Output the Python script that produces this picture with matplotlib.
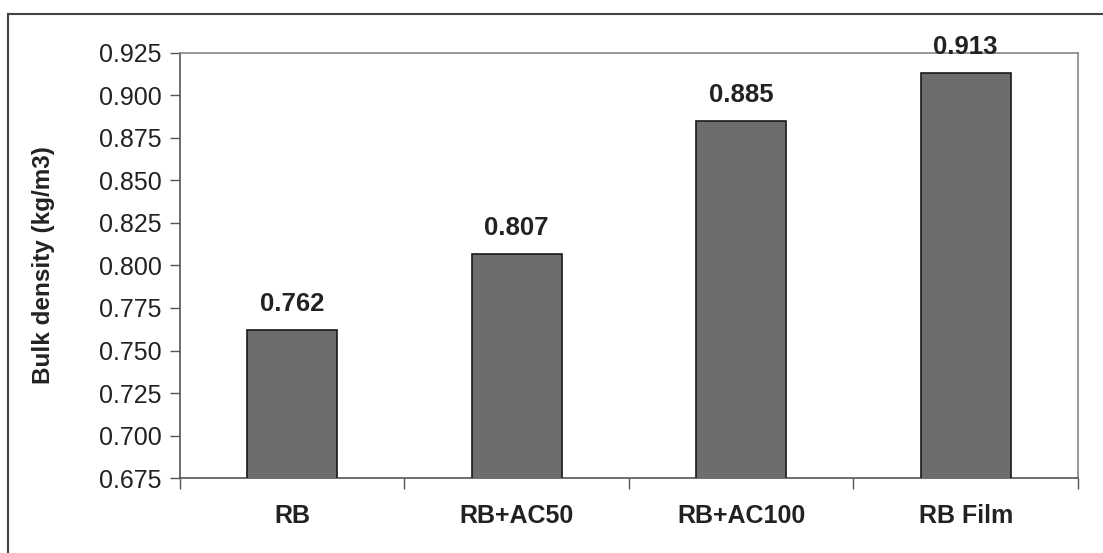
#!/usr/bin/env python3
"""Bulk density bar chart (RB / RB+AC50 / RB+AC100 / RB Film)."""

import matplotlib

matplotlib.use("Agg")
import matplotlib.pyplot as plt
from matplotlib.lines import Line2D
from matplotlib.ticker import FixedLocator, NullFormatter

CATEGORIES = ["RB", "RB+AC50", "RB+AC100", "RB Film"]
DENSITY = [0.762, 0.807, 0.885, 0.913]
Y_TICKS = [0.675, 0.700, 0.725, 0.750, 0.775, 0.800, 0.825,
           0.850, 0.875, 0.900, 0.925]

plt.rcParams["font.family"] = ["Liberation Sans", "DejaVu Sans"]

fig = plt.figure(figsize=(11.03, 5.53), dpi=100)
ax = fig.add_axes([0.1632, 0.1356, 0.8141, 0.7686])

xs = list(range(len(CATEGORIES)))
ax.bar(xs, DENSITY, width=0.4, bottom=0, color="#6d6d6d",
       edgecolor="#1a1a1a", linewidth=1.2, zorder=3)

for x, y in zip(xs, DENSITY):
    ax.annotate(f"{y:.3f}", (x, y), xytext=(0, 10), textcoords="offset points",
                ha="center", va="bottom", fontsize=18.5, fontweight="bold",
                color="#222", zorder=5, annotation_clip=False)

ax.set_xlim(-0.5, len(CATEGORIES) - 0.5)
ax.set_ylim(Y_TICKS[0], Y_TICKS[-1])
ax.set_yticks(Y_TICKS)
ax.set_yticklabels([f"{t:.3f}" for t in Y_TICKS], fontsize=18, color="#222")
ax.tick_params(axis="y", direction="out", length=7, width=1, color="#555", pad=6)

# category boundaries get the tick marks, centers carry the labels
ax.xaxis.set_major_locator(FixedLocator([x - 0.5 for x in xs] + [xs[-1] + 0.5]))
ax.xaxis.set_major_formatter(NullFormatter())
ax.xaxis.set_minor_locator(FixedLocator(xs))
ax.set_xticklabels(CATEGORIES, minor=True, fontsize=18, fontweight="bold",
                   color="#222")
ax.tick_params(axis="x", which="major", direction="out", length=8, width=1,
               color="#555")
ax.tick_params(axis="x", which="minor", length=0, pad=19)

ax.set_ylabel("Bulk density (kg/m3)", fontsize=17.5, fontweight="bold",
              color="#222", va="center")
ax.yaxis.set_label_coords(-0.152, 0.5)

for side in ("left", "bottom"):
    ax.spines[side].set_color("#555")
    ax.spines[side].set_linewidth(1.2)
for side in ("top", "right"):
    ax.spines[side].set_color("#888")
    ax.spines[side].set_linewidth(1.2)

# outer chart-area frame (top and left edges visible in the crop)
fx, fy = 7.5 / 1103, 1 - 13.5 / 553
fig.add_artist(Line2D([fx, 1.0], [fy, fy], transform=fig.transFigure,
                      color="#444", linewidth=1.5))
fig.add_artist(Line2D([fx, fx], [0.0, fy], transform=fig.transFigure,
                      color="#444", linewidth=1.5))

fig.savefig("out.png", dpi=100)
plt.close(fig)
